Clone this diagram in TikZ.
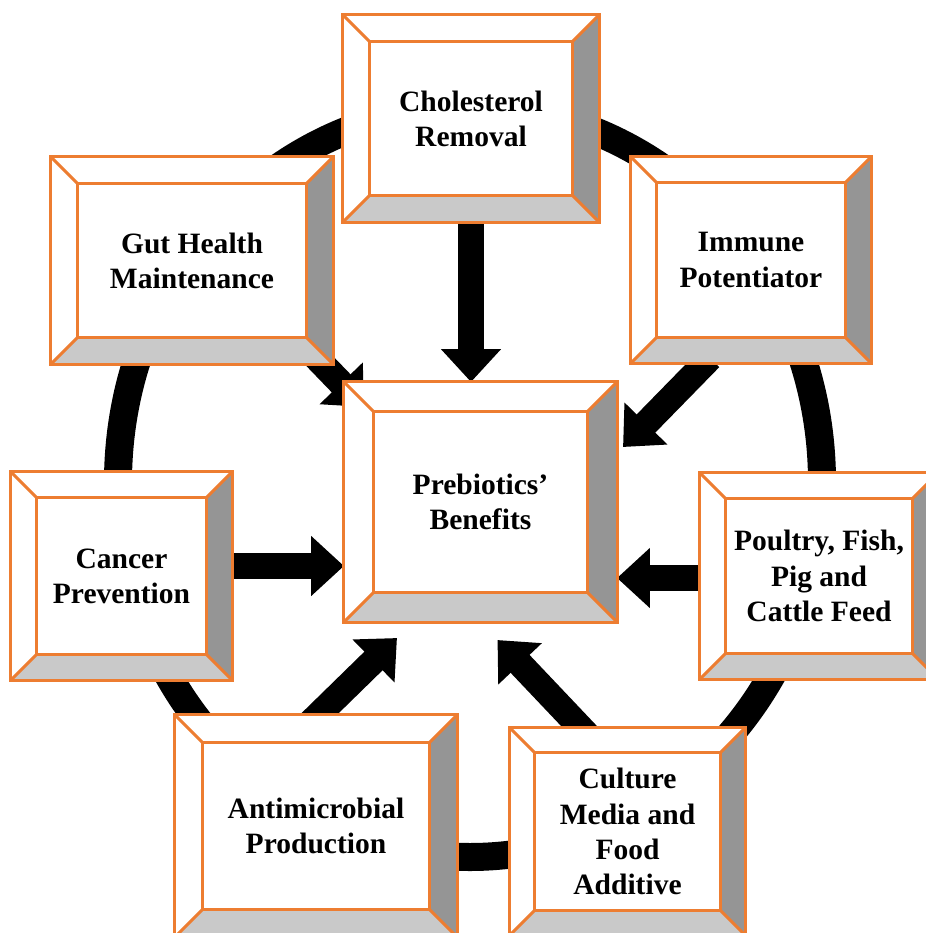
\documentclass[tikz,border=0pt]{standalone}
\usepackage{fontspec}
\setmainfont{Liberation Serif}
\usetikzlibrary{arrows.meta,calc,backgrounds}
\definecolor{boxline}{HTML}{ED7D31}
\definecolor{bevdark}{HTML}{959595}
\definecolor{bevlight}{HTML}{C9C9C9}

\begin{document}
\begin{tikzpicture}[
  x=0.025cm, y=-0.025cm,
  panel/.style={draw=boxline, line width=0.075cm, fill=white, align=center,
                inner sep=0pt, outer sep=0pt,
                font=\fontsize{21}{25}\selectfont\bfseries},
  trim/.style={draw=boxline, line width=0.075cm, line join=round},
  link/.style={-{Triangle[width=1.45cm, length=0.82cm]}, line width=0.65cm},
  ring/.style={line width=0.7cm},
]
\useasboundingbox (0,0) rectangle (926,933);

\node[panel, minimum width=6.4cm, minimum height=5.175cm] (chol) at (471,118.5) {Cholesterol\\Removal};
\node[panel, minimum width=7.05cm, minimum height=5.175cm] (gut) at (192,260.5) {Gut Health\\Maintenance};
\node[panel, minimum width=6cm, minimum height=5.15cm] (immune) at (751,260) {Immune\\Potentiator};
\node[panel, minimum width=5.525cm, minimum height=5.2cm] (cancer) at (121.5,576) {Cancer\\Prevention};
\node[panel, minimum width=6.825cm, minimum height=6cm] (bene) at (480.5,502) {Prebiotics'\\Benefits};
\node[panel, minimum width=5.95cm, minimum height=5.15cm] (poultry) at (819,576) {Poultry, Fish,\\Pig and\\Cattle Feed};
\node[panel, minimum width=7.05cm, minimum height=5.55cm] (anti) at (316,826) {Antimicrobial\\Production};
\node[panel, minimum width=5.875cm, minimum height=5.175cm] (culture) at (627.5,831.5) {Culture\\Media and\\Food\\Additive};

% bevel frames
\foreach \n/\bev in {chol/27, gut/27, immune/26, cancer/26, bene/30, poultry/26, anti/28, culture/25} {
  \fill[bevdark] (\n.north east) -- (\n.south east) -- ($(\n.south east)+(-\bev,-\bev)$)
    -- ($(\n.north east)+(-\bev,\bev)$) -- cycle;
  \fill[bevlight] (\n.south west) -- (\n.south east) -- ($(\n.south east)+(-\bev,-\bev)$)
    -- ($(\n.south west)+(\bev,-\bev)$) -- cycle;
  \draw[trim] ($(\n.north west)+(\bev,\bev)$) rectangle ($(\n.south east)+(-\bev,-\bev)$);
  \draw[trim] (\n.north west) -- ++(\bev,\bev) (\n.north east) -- ++(-\bev,\bev)
    (\n.south west) -- ++(\bev,-\bev) (\n.south east) -- ++(-\bev,-\bev);
  \draw[trim] (\n.north west) rectangle (\n.south east);
}

\begin{scope}[on background layer]
  \draw[ring] (470,482) ellipse [x radius=352, y radius=375];
  \draw[link] (chol) -- (chol |- bene.north);
  \draw[link] ($(gut.south east)+(-25,-15)$) -- ($(bene.north west)+(20,25)$);
  \draw[link] ($(immune.south)+(-41,-5)$) -- ($(bene.east)+(6,-55)$);
  \draw[link] ($(cancer.east)+(-5,-10)$) -- ($(cancer.east -| bene.west)+(0,-10)$);
  \draw[link] ($(poultry.west)+(5,2)$) -- ($(poultry.west -| bene.east)+(0,2)$);
  \draw[link] ($(anti.north)+(-8,10)$) -- ($(bene.south west)+(53,16)$);
  \draw[link] ($(culture.north)+(-40,7)$) -- ($(bene.south)+(17,18)$);
\end{scope}

\end{tikzpicture}
\end{document}
